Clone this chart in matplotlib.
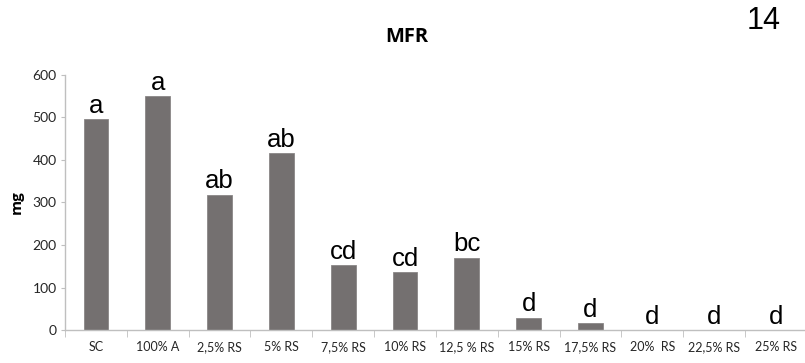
import numpy as np
import matplotlib.pyplot as plt

categories = ["SC", "100% A", "2,5% RS", "5% RS", "7,5% RS", "10% RS", "12,5 % RS",
              "15% RS", "17,5% RS", "20%  RS", "22,5% RS", "25% RS"]
mfr_mg = [496, 550, 318, 416, 153, 136, 170, 29, 16, 0, 0, 0]
letters = ["a", "a", "ab", "ab", "cd", "cd", "bc", "d", "d", "d", "d", "d"]

plt.rcParams.update({"font.family": ["Lato", "DejaVu Sans"]})

fig = plt.figure(figsize=(8.05, 3.63), dpi=100)
ax = fig.add_axes([0.0807, 0.0909, 0.9217, 0.7025])

x = np.arange(len(categories))
ax.bar(x, mfr_mg, width=0.4, color="#747070", edgecolor="#8a8686", linewidth=0.6, zorder=2)

for xi, v, lab in zip(x, mfr_mg, letters):
    ax.annotate(lab, (xi, v), xytext=(0, 1), textcoords="offset points",
                ha="center", va="bottom", fontsize=18.5, family="Liberation Sans", color="black")

ax.set_xlim(-0.5, len(categories) - 0.5)
ax.set_ylim(0, 600)
ax.set_yticks(range(0, 601, 100))
ax.set_xticks(x, categories)
ax.set_xticks(np.arange(-0.5, len(categories), 1.0), minor=True)
ax.tick_params(axis="x", which="major", length=0, pad=8, labelsize=9, labelcolor="#262626")
ax.tick_params(axis="x", which="minor", length=5, color="#bfbfbf", direction="out")
ax.tick_params(axis="y", length=3, color="#bfbfbf", labelsize=10, labelcolor="#262626", pad=3)

for s in ["top", "right"]:
    ax.spines[s].set_visible(False)
for s in ["left", "bottom"]:
    ax.spines[s].set_color("#bfbfbf")
    ax.spines[s].set_linewidth(1.0)

ax.set_ylabel("mg", fontsize=11, fontweight="bold", family="Open Sans", labelpad=6)
fig.text(0.505, 0.898, "MFR", ha="center", va="center", fontsize=14.5, fontweight="bold",
         family="Open Sans")
fig.text(0.948, 0.942, "14", ha="center", va="center", fontsize=22, family="Liberation Sans")

fig.savefig("out.png", dpi=100)
